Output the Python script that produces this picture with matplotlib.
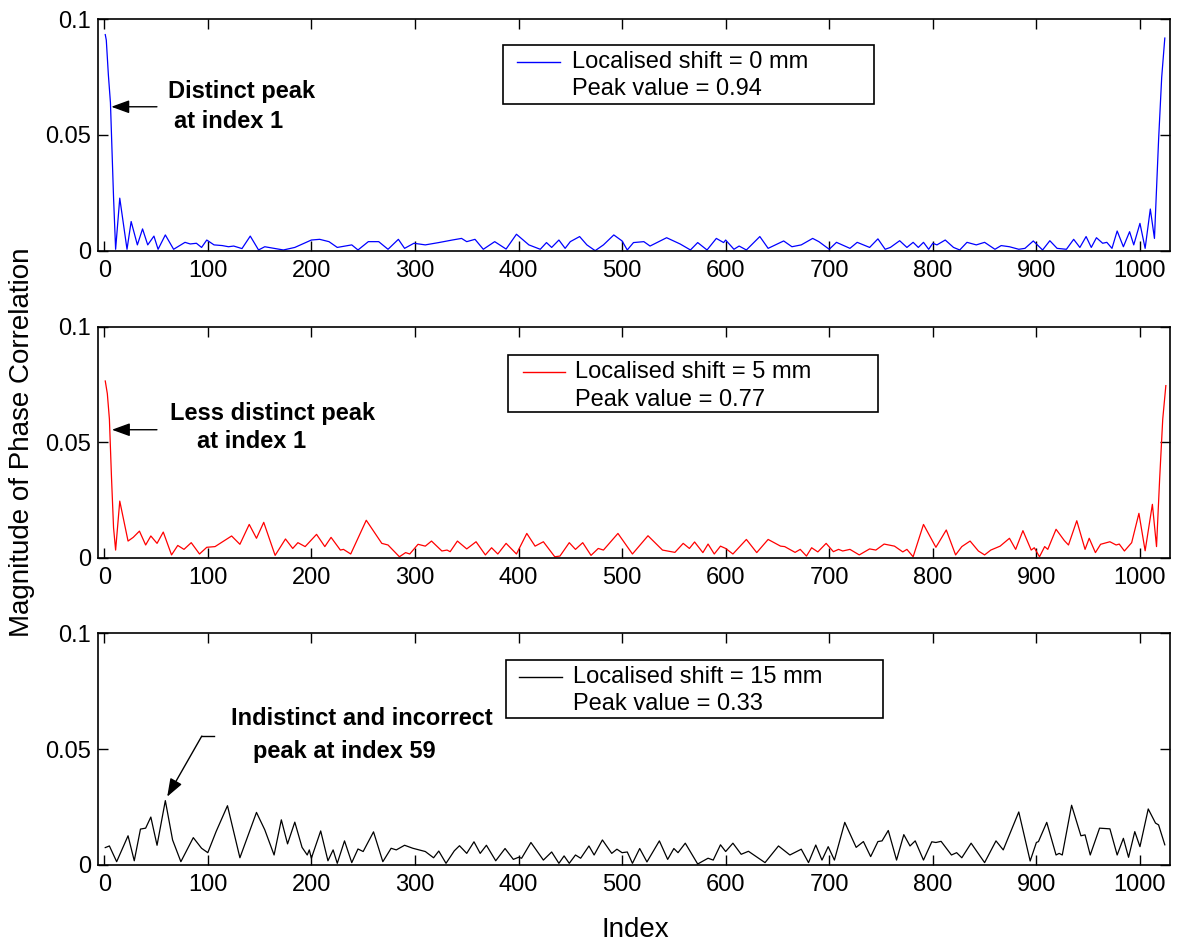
import matplotlib
matplotlib.use("Agg")
import matplotlib.pyplot as plt
from matplotlib.patches import Rectangle

plt.rcParams["font.family"] = ["Liberation Sans", "DejaVu Sans"]

# peaks / troughs (index, magnitude)
blue_idx = [1, 2, 4, 6, 9, 11, 15, 22, 26, 32, 37, 42, 48, 52, 59, 67, 78, 83, 89, 94,
            99, 106, 114, 120, 125, 133, 141, 149, 155, 165, 173, 184, 200, 208, 217, 225,
            239, 245, 255, 265, 274, 284, 290, 299, 310, 323, 336, 345, 350, 358, 366,
            377, 388, 398, 410, 421, 427, 432, 439, 445, 450, 459, 466, 474, 482, 492,
            500, 505, 511, 521, 527, 543, 556, 566, 573, 582, 591, 598, 600, 608, 613,
            620, 633, 641, 656, 664, 673, 684, 690, 700, 707, 720, 727, 739, 747, 754,
            759, 768, 775, 781, 786, 791, 796, 800, 804, 812, 820, 826, 833, 842, 850,
            860, 866, 874, 883, 889, 897, 906, 913, 920, 929, 936, 942, 948, 953, 958,
            964, 968, 973, 978, 984, 990, 994, 1000, 1005, 1010, 1014, 1018, 1021, 1024]
blue_val = [.0934, .0910, .0760, .0640, .0230, .0006, .0227, .0006, .0126, .0025, .0094,
            .0025, .0063, .0006, .0068, .0006, .0036, .0029, .0032, .0014, .0046, .0025,
            .0022, .0017, .0020, .0009, .0063, .0003, .0017, .0009, .0003, .0014, .0046,
            .0049, .0039, .0014, .0025, .0003, .0039, .0039, .0006, .0049, .0010, .0032,
            .0025, .0035, .0046, .0053, .0039, .0049, .0006,
            .0039, .0007, .0071, .0025, .0006, .0035, .0014, .0046, .0010, .0039, .0061,
            .0025, .0000, .0025, .0068, .0042, .0003, .0035, .0039, .0020, .0056, .0029,
            .0003, .0035, .0003, .0053, .0035, .0046, .0006, .0020, .0003, .0061, .0010,
            .0042, .0017, .0025, .0053, .0039, .0006, .0036, .0010, .0036, .0014, .0051,
            .0006, .0014, .0043, .0014, .0036, .0014, .0036, .0006, .0032, .0025, .0046,
            .0014, .0003, .0036, .0025, .0036, .0006, .0022, .0017, .0006, .0010, .0042,
            .0003, .0043, .0010, .0006, .0049, .0014, .0061, .0014, .0056, .0032, .0036,
            .0010, .0085, .0017, .0082, .0025, .0118, .0010, .0180, .0053, .0480, .0750,
            .0919]

red_idx = [1, 3, 5, 7, 9, 11, 15, 23, 28, 34, 40, 45, 51, 57, 65, 71, 77, 84, 92, 99,
           107, 123, 131, 140, 147, 154, 165, 175, 182, 187, 194, 205, 213, 219, 228, 231,
           238, 253, 268, 274, 285, 291, 295, 303, 310, 316, 326, 331, 334, 341,
           350, 359, 368, 374, 380, 388, 398, 408, 416, 424, 435, 440, 449, 455, 462,
           470, 477, 482, 496, 510, 525, 539, 551, 559, 565, 570, 578, 583, 589, 595,
           600, 607, 620, 630, 641, 653, 657, 667, 672, 678,
           683, 689, 697, 704, 709, 713, 720, 729, 739, 745, 753, 763, 771, 775, 781,
           791, 803, 813, 822, 828, 836, 844, 850, 856, 865, 874, 880, 887, 895, 898,
           903, 908, 911, 919, 927, 931, 939, 947, 951, 957, 962, 971, 977, 980, 985,
           992, 999, 1005, 1012, 1016, 1019, 1022, 1025]
red_val = [.0765, .0710, .0600, .0350, .0130, .0033, .0245, .0072, .0088, .0115, .0055,
           .0094, .0062, .0111, .0012, .0053, .0036, .0065, .0016, .0045, .0048, .0094,
           .0058, .0144, .0084, .0153, .0010, .0081, .0040, .0065, .0048, .0101, .0048,
           .0088, .0033, .0036, .0016, .0162, .0062, .0055, .0004, .0022, .0016, .0058,
           .0050, .0072, .0029, .0033, .0026, .0072,
           .0038, .0069, .0012, .0043, .0016, .0062, .0016, .0105, .0050, .0069, .0004,
           .0007, .0065, .0036, .0065, .0010, .0040, .0033, .0105, .0016, .0095, .0033,
           .0023, .0062, .0040, .0068, .0022, .0059, .0016, .0050, .0040, .0016, .0079,
           .0022, .0079, .0050, .0048, .0023, .0036, .0007,
           .0043, .0025, .0062, .0026, .0036, .0029, .0036, .0012, .0038, .0033, .0059,
           .0050, .0025, .0036, .0004, .0144, .0045, .0120, .0012, .0048, .0072, .0029,
           .0012, .0033, .0050, .0084, .0036, .0117, .0033, .0043, .0004, .0048, .0036,
           .0123, .0074, .0055, .0160, .0036, .0084, .0022, .0058, .0069, .0055, .0059,
           .0029, .0065, .0192, .0030, .0231, .0048, .0340, .0600, .0745]

black_idx = [1, 5, 12, 23, 29, 35, 40, 45, 51, 59, 66, 74, 86, 94, 100, 108, 119, 131,
             147, 155, 164, 171, 177, 184, 191, 196, 198, 200, 209, 216, 221, 225, 232,
             239, 245, 250, 260, 269, 277, 282, 290, 298, 310, 318, 323, 330,
             338, 343, 350, 357, 363, 369, 378, 387, 395, 400, 403, 412, 424, 432, 439,
             444, 449, 455, 460, 468, 473, 481, 490, 495, 500, 505, 510, 517, 524, 536,
             544, 550, 554, 561, 573, 583, 588, 595, 600, 607, 615, 622, 638, 651, 662,
             673, 680, 687, 693, 699, 705, 715, 726, 733, 740, 747, 751, 757, 765, 772,
             778, 783, 791, 799, 803, 808, 818, 823, 828, 837, 850, 861, 868, 883, 894,
             900, 902, 910, 919, 922, 925, 934, 943, 947, 952, 961, 971, 978, 984, 989,
             995, 1000, 1008, 1015, 1018, 1024]
black_val = [.0074, .0081, .0013, .0125, .0017, .0154, .0158, .0206, .0084, .0277, .0107,
             .0013, .0117, .0071, .0052, .0143, .0255, .0030, .0226, .0151, .0042, .0194,
             .0090, .0184, .0075, .0042, .0064, .0028, .0146, .0017, .0064, .0006, .0103,
             .0009, .0068, .0057, .0142, .0013, .0071, .0064, .0084, .0071, .0057, .0030,
             .0059, .0006,
             .0060, .0082, .0049, .0099, .0049, .0084, .0017, .0070, .0023, .0032, .0028,
             .0096, .0020, .0055, .0006, .0038, .0006, .0042, .0028, .0081, .0042, .0107,
             .0049, .0067, .0052, .0055, .0006, .0070, .0012, .0103, .0023, .0070, .0052,
             .0093, .0003, .0028, .0020, .0086, .0057, .0093, .0045, .0058, .0009, .0081,
             .0042, .0067, .0009, .0085, .0020, .0078, .0020, .0183, .0075, .0100, .0035,
             .0100, .0103, .0148, .0020, .0130, .0081, .0103, .0020, .0099, .0096, .0101,
             .0042, .0052, .0030, .0093, .0009, .0103, .0064, .0228, .0016, .0096, .0100,
             .0183, .0042, .0049, .0042, .0257, .0125, .0129, .0042, .0158, .0155, .0042,
             .0114, .0032, .0143, .0078, .0241, .0180, .0172, .0086]

shift_labels = ["Localised shift = 0 mm", "Localised shift = 5 mm", "Localised shift = 15 mm"]
peak_labels = ["Peak value = 0.94", "Peak value = 0.77", "Peak value = 0.33"]
x_ticks = list(range(0, 1001, 100))
y_ticks = [0, 0.05, 0.1]
y_tick_labels = ["0", "0.05", "0.1"]

series = [(blue_idx, blue_val, "#0000ff"),
          (red_idx, red_val, "#ff0000"),
          (black_idx, black_val, "#000000")]

# axes boxes (left, bottom, width, height) in figure fractions
boxes = [[0.0832, 0.7353, 0.910, 0.2443],
         [0.0832, 0.4111, 0.910, 0.2439],
         [0.0832, 0.0869, 0.910, 0.2443]]

# legend frame / line / text positions in axes fractions
legend_pos = [
  dict(x0=0.378, x1=0.724, y0=0.634, y1=0.889, lx=(0.391, 0.431), tx=0.442, ty=(0.815, 0.699)),
  dict(x0=0.382, x1=0.728, y0=0.631, y1=0.877, lx=(0.396, 0.436), tx=0.445, ty=(0.804, 0.683)),
  dict(x0=0.381, x1=0.732, y0=0.634, y1=0.885, lx=(0.393, 0.433), tx=0.443, ty=(0.811, 0.694)),
]

FS = 17

fig = plt.figure(figsize=(11.78, 9.47), dpi=100)
axes = []
for i, (xs, ys, col) in enumerate(series):
  ax = fig.add_axes(boxes[i])
  axes.append(ax)
  ax.plot(xs, ys, color=col, lw=0.9, solid_joinstyle="round")
  ax.set_xlim(-6, 1029)
  ax.set_ylim(0, 0.1)
  ax.set_xticks(x_ticks)
  ax.set_yticks(y_ticks)
  ax.set_yticklabels(y_tick_labels)
  ax.tick_params(direction="in", top=True, right=True, length=7, width=1.0,
                 labelsize=FS)
  ax.tick_params(axis="x", pad=7)
  ax.tick_params(axis="y", pad=5)
  for sp in ax.spines.values():
    sp.set_linewidth(1.2)

  # legend box drawn by hand
  lp = legend_pos[i]
  ax.add_patch(Rectangle((lp["x0"], lp["y0"]), lp["x1"] - lp["x0"], lp["y1"] - lp["y0"],
                         transform=ax.transAxes, fill=False, ec="k", lw=1.2))
  ax.plot(lp["lx"], [lp["ty"][0]] * 2, color=col, lw=1.0, transform=ax.transAxes)
  ax.text(lp["tx"], lp["ty"][0], shift_labels[i], transform=ax.transAxes,
          fontsize=FS, va="center", ha="left")
  ax.text(lp["tx"], lp["ty"][1], peak_labels[i], transform=ax.transAxes,
          fontsize=FS, va="center", ha="left")

arrow = dict(arrowstyle="-|>,head_length=0.55,head_width=0.2", color="k", lw=1.0,
             shrinkA=0, shrinkB=0, mutation_scale=20)

# panel 1 annotation
ax = axes[0]
ax.annotate("", xy=(6.8, 0.0622), xytext=(50.9, 0.0622), arrowprops=arrow)
ax.text(61.5, 0.0687, "Distinct peak", fontsize=FS, fontweight="bold", va="center")
ax.text(67.6, 0.0557, "at index 1", fontsize=FS, fontweight="bold", va="center")

# panel 2 annotation
ax = axes[1]
ax.annotate("", xy=(7.4, 0.0554), xytext=(50.9, 0.0554), arrowprops=arrow)
ax.text(63.7, 0.0625, "Less distinct peak", fontsize=FS, fontweight="bold", va="center")
ax.text(89.5, 0.0501, "at index 1", fontsize=FS, fontweight="bold", va="center")

# panel 3 annotation
ax = axes[2]
ax.plot([94.2, 106.2], [0.0556, 0.0556], color="k", lw=1.0)
ax.annotate("", xy=(60.8, 0.0294), xytext=(94.2, 0.0556), arrowprops=arrow)
ax.text(122.3, 0.0634, "Indistinct and incorrect", fontsize=FS, fontweight="bold", va="center")
ax.text(143.8, 0.0488, "peak at index 59", fontsize=FS, fontweight="bold", va="center")

fig.text(22 / 1178, 1 - 442 / 947, "Magnitude of Phase Correlation", rotation=90,
         fontsize=20, ha="center", va="center")
fig.text(635 / 1178, 1 - 930 / 947, "Index", fontsize=20, ha="center", va="center")

fig.savefig("out.png", dpi=100)
